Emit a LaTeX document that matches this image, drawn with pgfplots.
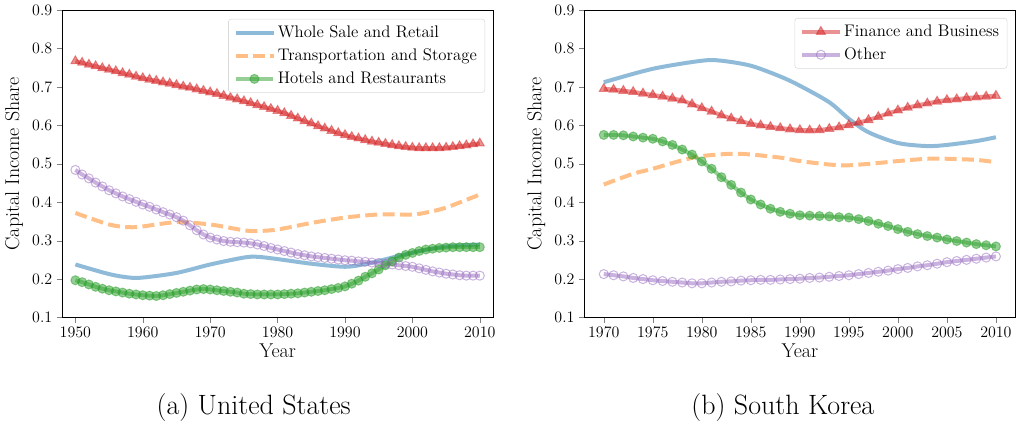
\documentclass[border=0pt]{standalone}
\usepackage{pgfplots}
\pgfplotsset{compat=1.18}

\definecolor{tabblue}{RGB}{31,119,180}
\definecolor{taborange}{RGB}{255,127,14}
\definecolor{tabgreen}{RGB}{44,160,44}
\definecolor{tabred}{RGB}{214,39,40}
\definecolor{tabpurple}{RGB}{148,103,189}

\pgfplotsset{
  capstyle/.style={
    scale only axis, width=324pt, height=231pt,
    ymin=0.1, ymax=0.9, ytick={0.1,0.2,...,0.9},
    tick pos=left, tick align=outside,
    major tick length=3.75pt,
    yticklabel style={/pgf/number format/fixed, /pgf/number format/fixed zerofill, /pgf/number format/precision=1},
    xticklabel style={/pgf/number format/set thousands separator={}},
    ticklabel style={font=\fontsize{12}{14}\selectfont},
    label style={font=\fontsize{15}{17}\selectfont},
    xlabel={Year}, ylabel={Capital Income Share},
    xlabel style={yshift=2pt},
    legend cell align=left,
    legend style={anchor=north east, draw=black!15, rounded corners=2pt,
      fill=white, fill opacity=0.8, text opacity=1,
      font=\fontsize{12.6}{15}\selectfont, row sep=3pt, inner xsep=4pt, inner ysep=3pt},
    legend image code/.code={\draw[mark repeat=2,mark phase=2] plot coordinates {(0pt,0pt) (14pt,0pt) (28pt,0pt)};},
  },
  wline/.style={tabblue, line width=3pt, opacity=0.5, smooth, no markers},
  tline/.style={taborange, line width=3pt, opacity=0.5, smooth, no markers, dash pattern=on 9pt off 4pt},
  hline/.style={tabgreen, line width=3pt, opacity=0.5, mark=*, mark size=3.4pt, mark options={solid, line width=0.75pt, fill=tabgreen}},
  fline/.style={tabred, line width=3pt, opacity=0.5, mark=triangle*, mark size=3.9pt, mark options={solid, line width=0.75pt, fill=tabred}},
  oline/.style={tabpurple, line width=3pt, opacity=0.5, mark=o, mark size=3.4pt, mark options={solid, line width=0.75pt}},
}

\begin{document}
\begin{tikzpicture}
% (a) United States
\begin{axis}[capstyle, xmin=1948, xmax=2012, xtick={1950,1960,...,2010},
  legend style={at={(0.981,0.971)}}]
\addplot[wline] coordinates {
 (1950,0.238) (1955,0.213) (1958,0.204) (1960,0.204) (1965,0.216) (1970,0.238)
 (1975,0.256) (1977,0.258) (1980,0.252) (1985,0.240) (1990,0.232) (1993,0.239)
 (1995,0.247) (2000,0.269) (2005,0.285) (2010,0.290)};
\addlegendentry{Whole Sale and Retail}
\addplot[tline] coordinates {
 (1950,0.372) (1955,0.342) (1958,0.335) (1960,0.337) (1965,0.348) (1970,0.342)
 (1975,0.327) (1977,0.325) (1980,0.329) (1985,0.346) (1990,0.360) (1995,0.368)
 (2000,0.368) (2002,0.373) (2005,0.386) (2010,0.420)};
\addlegendentry{Transportation and Storage}
\addplot[hline] coordinates {
 (1950,0.197) (1951,0.192) (1952,0.186) (1953,0.180) (1954,0.175) (1955,0.171)
 (1956,0.168) (1957,0.165) (1958,0.162) (1959,0.160) (1960,0.158) (1961,0.157)
 (1962,0.156) (1963,0.158) (1964,0.161) (1965,0.164) (1966,0.167) (1967,0.170)
 (1968,0.173) (1969,0.174) (1970,0.173) (1971,0.171) (1972,0.169) (1973,0.167)
 (1974,0.165) (1975,0.162) (1976,0.161) (1977,0.160) (1978,0.160) (1979,0.160)
 (1980,0.160) (1981,0.161) (1982,0.162) (1983,0.163) (1984,0.165) (1985,0.167)
 (1986,0.169) (1987,0.171) (1988,0.174) (1989,0.177) (1990,0.181) (1991,0.188)
 (1992,0.196) (1993,0.206) (1994,0.215) (1995,0.225) (1996,0.236) (1997,0.246)
 (1998,0.256) (1999,0.263) (2000,0.268) (2001,0.273) (2002,0.277) (2003,0.279)
 (2004,0.281) (2005,0.282) (2006,0.283) (2007,0.283) (2008,0.283) (2009,0.283)
 (2010,0.283)};
\addlegendentry{Hotels and Restaurants}
\addplot[fline, forget plot] coordinates {
 (1950,0.767) (1951,0.763) (1952,0.758) (1953,0.754) (1954,0.749) (1955,0.745)
 (1956,0.741) (1957,0.736) (1958,0.732) (1959,0.727) (1960,0.723) (1961,0.719)
 (1962,0.716) (1963,0.712) (1964,0.709) (1965,0.705) (1966,0.701) (1967,0.698)
 (1968,0.694) (1969,0.690) (1970,0.686) (1971,0.682) (1972,0.677) (1973,0.672)
 (1974,0.668) (1975,0.663) (1976,0.658) (1977,0.653) (1978,0.648) (1979,0.643)
 (1980,0.638) (1981,0.632) (1982,0.625) (1983,0.618) (1984,0.611) (1985,0.605)
 (1986,0.598) (1987,0.592) (1988,0.586) (1989,0.580) (1990,0.575) (1991,0.570)
 (1992,0.566) (1993,0.562) (1994,0.558) (1995,0.555) (1996,0.552) (1997,0.549)
 (1998,0.546) (1999,0.544) (2000,0.542) (2001,0.541) (2002,0.541) (2003,0.541)
 (2004,0.541) (2005,0.542) (2006,0.544) (2007,0.546) (2008,0.548) (2009,0.551)
 (2010,0.553)};
\addplot[oline, forget plot] coordinates {
 (1950,0.484) (1951,0.472) (1952,0.462) (1953,0.451) (1954,0.441) (1955,0.431)
 (1956,0.423) (1957,0.415) (1958,0.408) (1959,0.401) (1960,0.394) (1961,0.388)
 (1962,0.381) (1963,0.374) (1964,0.368) (1965,0.361) (1966,0.352) (1967,0.340)
 (1968,0.327) (1969,0.316) (1970,0.308) (1971,0.303) (1972,0.299) (1973,0.297)
 (1974,0.296) (1975,0.295) (1976,0.293) (1977,0.290) (1978,0.286) (1979,0.281)
 (1980,0.277) (1981,0.273) (1982,0.269) (1983,0.265) (1984,0.262) (1985,0.259)
 (1986,0.257) (1987,0.255) (1988,0.253) (1989,0.251) (1990,0.249) (1991,0.248)
 (1992,0.246) (1993,0.245) (1994,0.243) (1995,0.242) (1996,0.240) (1997,0.238)
 (1998,0.236) (1999,0.234) (2000,0.232) (2001,0.228) (2002,0.224) (2003,0.220)
 (2004,0.217) (2005,0.214) (2006,0.212) (2007,0.210) (2008,0.209) (2009,0.209)
 (2010,0.209)};
\end{axis}

% (b) South Korea
\begin{axis}[capstyle, at={(392.25pt,0pt)}, xmin=1968, xmax=2012, xtick={1970,1975,...,2010},
  legend style={at={(0.981,0.974)}}]
\addplot[wline, forget plot] coordinates {
 (1970,0.712) (1975,0.747) (1980,0.768) (1982,0.768) (1985,0.755) (1988,0.727)
 (1990,0.703) (1993,0.660) (1995,0.617) (1997,0.582) (2000,0.554) (2003,0.546)
 (2005,0.549) (2008,0.559) (2010,0.569)};
\addplot[tline, forget plot] coordinates {
 (1970,0.446) (1973,0.474) (1975,0.487) (1978,0.509) (1980,0.520) (1983,0.526)
 (1985,0.524) (1988,0.516) (1990,0.507) (1993,0.498) (1995,0.496) (1998,0.502)
 (2000,0.507) (2003,0.513) (2005,0.513) (2008,0.510) (2010,0.504)};
\addplot[hline, forget plot] coordinates {
 (1970,0.575) (1971,0.575) (1972,0.574) (1973,0.571) (1974,0.568) (1975,0.565)
 (1976,0.558) (1977,0.549) (1978,0.537) (1979,0.524) (1980,0.506) (1981,0.487)
 (1982,0.465) (1983,0.445) (1984,0.425) (1985,0.407) (1986,0.394) (1987,0.383)
 (1988,0.375) (1989,0.370) (1990,0.366) (1991,0.365) (1992,0.364) (1993,0.363)
 (1994,0.361) (1995,0.360) (1996,0.356) (1997,0.351) (1998,0.344) (1999,0.338)
 (2000,0.330) (2001,0.323) (2002,0.317) (2003,0.312) (2004,0.308) (2005,0.303)
 (2006,0.299) (2007,0.295) (2008,0.291) (2009,0.288) (2010,0.285)};
\addplot[fline] coordinates {
 (1970,0.695) (1971,0.693) (1972,0.690) (1973,0.687) (1974,0.683) (1975,0.679)
 (1976,0.675) (1977,0.670) (1978,0.665) (1979,0.655) (1980,0.645) (1981,0.636)
 (1982,0.626) (1983,0.618) (1984,0.611) (1985,0.604) (1986,0.600) (1987,0.596)
 (1988,0.593) (1989,0.590) (1990,0.588) (1991,0.587) (1992,0.588) (1993,0.591)
 (1994,0.595) (1995,0.601) (1996,0.607) (1997,0.614) (1998,0.622) (1999,0.631)
 (2000,0.639) (2001,0.646) (2002,0.652) (2003,0.657) (2004,0.662) (2005,0.666)
 (2006,0.668) (2007,0.671) (2008,0.673) (2009,0.675) (2010,0.677)};
\addlegendentry{Finance and Business}
\addplot[oline] coordinates {
 (1970,0.213) (1971,0.210) (1972,0.207) (1973,0.203) (1974,0.200) (1975,0.197)
 (1976,0.195) (1977,0.193) (1978,0.191) (1979,0.189) (1980,0.189) (1981,0.191)
 (1982,0.193) (1983,0.194) (1984,0.196) (1985,0.197) (1986,0.198) (1987,0.198)
 (1988,0.199) (1989,0.200) (1990,0.201) (1991,0.203) (1992,0.204) (1993,0.206)
 (1994,0.208) (1995,0.210) (1996,0.213) (1997,0.216) (1998,0.219) (1999,0.222)
 (2000,0.226) (2001,0.229) (2002,0.233) (2003,0.236) (2004,0.240) (2005,0.244)
 (2006,0.247) (2007,0.250) (2008,0.253) (2009,0.256) (2010,0.259)};
\addlegendentry{Other}
\end{axis}

\node[font=\fontsize{21}{24}\selectfont] at (144pt,-67.5pt) {(a) United States};
\node[font=\fontsize{21}{24}\selectfont] at (541.5pt,-67.5pt) {(b) South Korea};
\path[use as bounding box] (-46.5pt,-81.75pt) rectangle (715.5pt,238.5pt);
\end{tikzpicture}
\end{document}
